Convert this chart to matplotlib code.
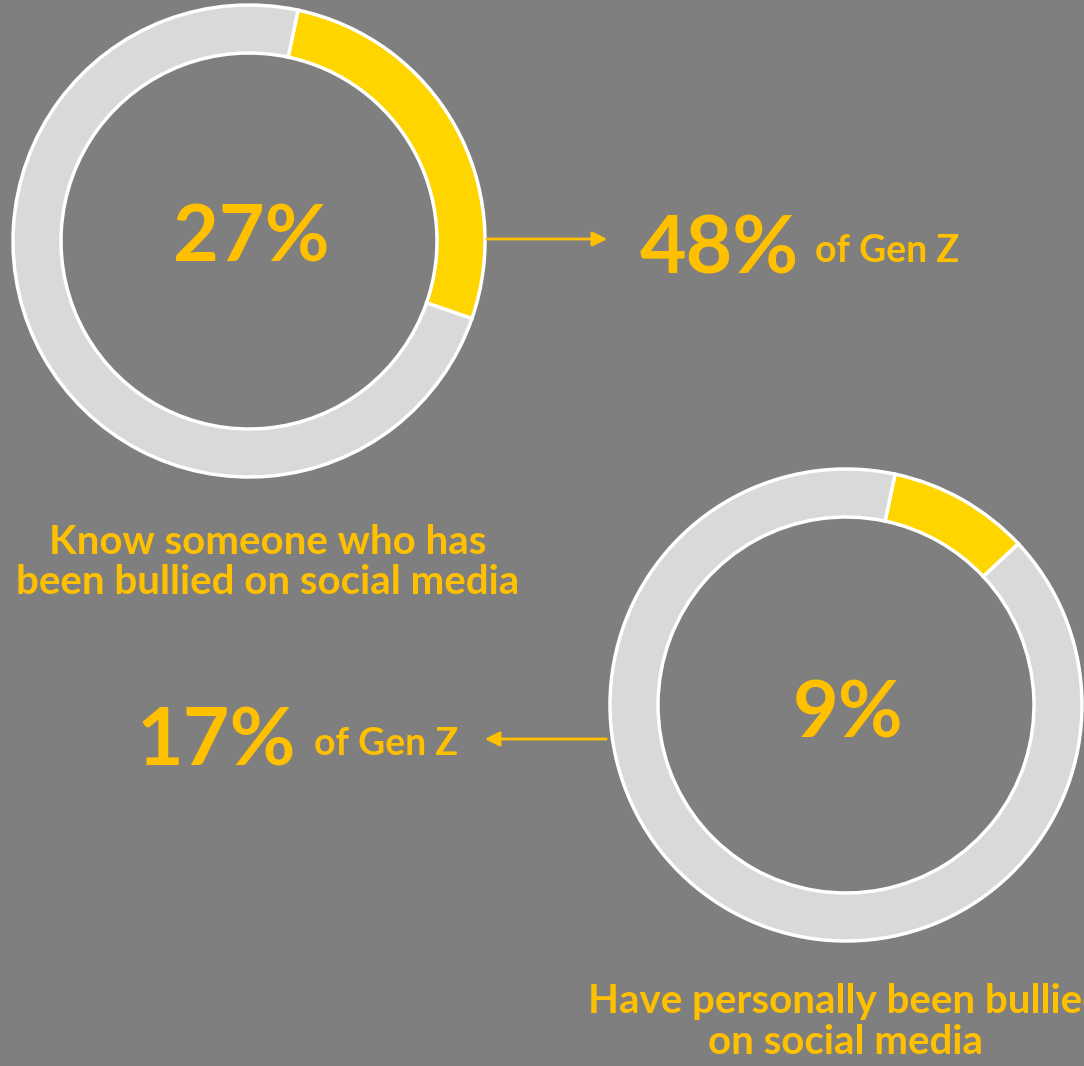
import matplotlib.pyplot as plt

# donut values (percent shown in the ring) and side stats
ring_values = [27, 9.7]
ring_labels = ['27%', '9%']
gen_z_values = ['48%', '17%']
captions = ['Know someone who has\nbeen bullied on social media',
            'Have personally been bullied\non social media']

BG = '#7f7f7f'
GREY = '#d9d9d9'
YELLOW = '#ffd500'
TEXT = '#ffc000'
H = 1066

plt.rcParams['font.family'] = ['Lato', 'DejaVu Sans']

fig = plt.figure(figsize=(10.84, 10.66), dpi=100, facecolor=BG)
ax = fig.add_axes([0, 0, 1, 1])
ax.set_facecolor(BG)

centers = [(249, H - 241), (846, H - 705)]
for (cx, cy), v in zip(centers, ring_values):
    ax.pie([v, 100 - v], colors=[YELLOW, GREY], startangle=78, counterclock=False,
           center=(cx, cy), radius=236,
           wedgeprops=dict(width=48, edgecolor='white', linewidth=2.5))

# big numbers inside the rings
label_pos = [(251, H - 239), (848, H - 715)]
for (x, y), lab in zip(label_pos, ring_labels):
    ax.text(x, y, lab, ha='center', va='center', fontsize=57,
            fontweight='bold', color=TEXT)

# arrows and Gen Z stats
ax.annotate('', xy=(610, H - 239), xytext=(484, H - 239),
            arrowprops=dict(arrowstyle='-|>', color=TEXT, lw=2, mutation_scale=22))
ax.text(640, H - 250, gen_z_values[0], ha='left', va='center', fontsize=58,
        fontweight='bold', color=TEXT)
ax.text(815, H - 251, 'of Gen Z', ha='left', va='center', fontsize=27,
        fontweight='bold', color=TEXT)

ax.annotate('', xy=(482, H - 739), xytext=(609, H - 739),
            arrowprops=dict(arrowstyle='-|>', color=TEXT, lw=2, mutation_scale=22))
ax.text(137, H - 743, gen_z_values[1], ha='left', va='center', fontsize=58,
        fontweight='bold', color=TEXT)
ax.text(314, H - 744, 'of Gen Z', ha='left', va='center', fontsize=27,
        fontweight='bold', color=TEXT)

# captions
ax.text(268, H - 563, captions[0], ha='center', va='center', fontsize=29,
        fontweight='bold', color=TEXT, linespacing=1.1)
ax.text(846, H - 1022, captions[1], ha='center', va='center', fontsize=29,
        fontweight='bold', color=TEXT, linespacing=1.1)

ax.set_xlim(0, 1084)
ax.set_ylim(0, H)
ax.set_aspect('equal')
ax.axis('off')

fig.savefig('out.png', dpi=100, facecolor=BG)
